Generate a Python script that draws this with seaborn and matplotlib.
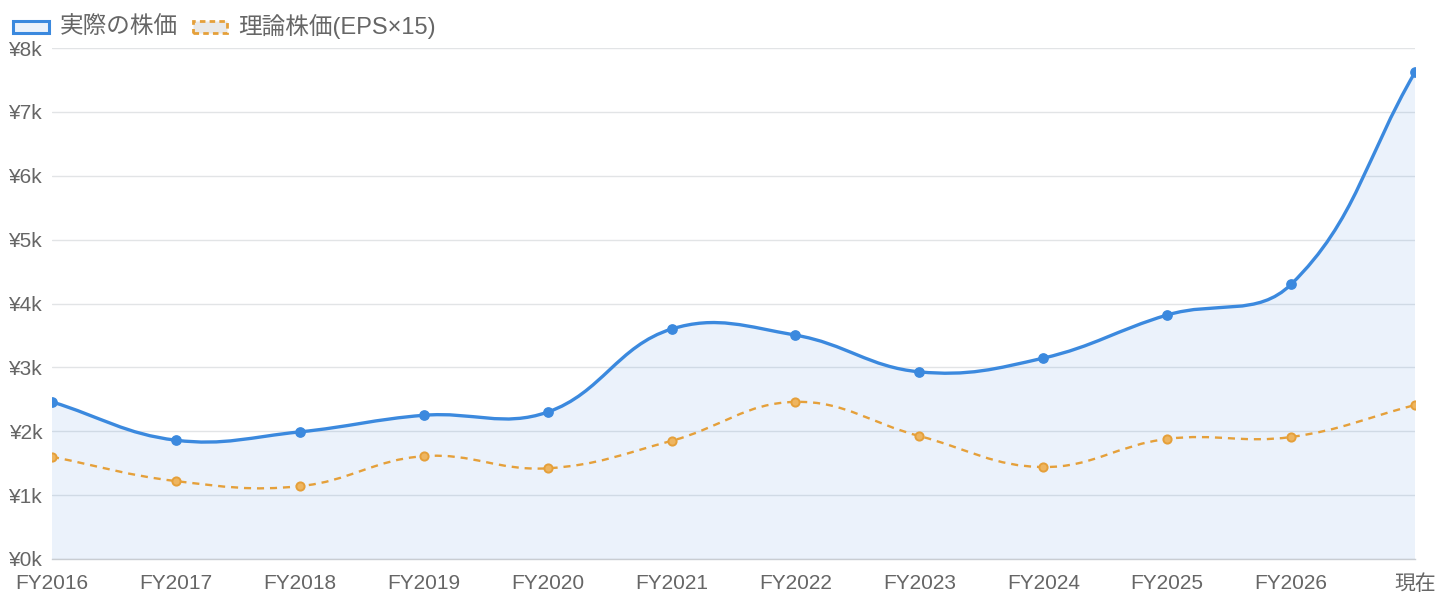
import numpy as np
import pandas as pd
import seaborn as sns
import matplotlib.pyplot as plt
from matplotlib.path import Path
from matplotlib.patches import PathPatch, Rectangle
from matplotlib.ticker import FuncFormatter

# data
labels = ['FY2016', 'FY2017', 'FY2018', 'FY2019', 'FY2020', 'FY2021',
          'FY2022', 'FY2023', 'FY2024', 'FY2025', 'FY2026', '現在']
actual_price = [2460, 1860, 1990, 2250, 2300, 3600, 3505, 2930, 3145, 3820, 4300, 7620]
theory_price = [1600, 1220, 1140, 1610, 1420, 1850, 2460, 1925, 1440, 1880, 1910, 2410]

blue = '#3b89de'
orange = '#e5a03a'
grey_text = '#666666'

df = pd.DataFrame({'x': range(len(labels)), 'label': labels,
                   'actual': actual_price, 'theory': theory_price})

sns.set_theme(style='white')
plt.rcParams['font.family'] = ['Liberation Sans', 'Noto Sans CJK JP', 'DejaVu Sans']

fig = plt.figure(figsize=(14.4, 6), dpi=100)
ax = fig.add_axes([52 / 1440, 41 / 600, (1415 - 52) / 1440, (559 - 48) / 600])
ax.set_xlim(0, len(labels) - 1)
ax.set_ylim(0, 8000)


# chart.js style bezier smoothing (tension 0.4), done in pixel space
def smooth_path(xs, ys, tension=0.4):
    pts = ax.transData.transform(np.column_stack([xs, ys]))
    n = len(pts)
    y_top, y_bot = ax.transData.transform([(0, 8000), (0, 0)])[:, 1]
    cp_prev, cp_next = [], []
    for i in range(n):
        prev = pts[i - 1] if i > 0 else pts[i]
        cur = pts[i]
        nxt = pts[i + 1] if i < n - 1 else pts[i]
        d01 = np.hypot(*(cur - prev))
        d12 = np.hypot(*(nxt - cur))
        tot = d01 + d12
        s01 = d01 / tot if tot else 0
        s12 = d12 / tot if tot else 0
        fa, fb = tension * s01, tension * s12
        p = cur - fa * (nxt - prev)
        q = cur + fb * (nxt - prev)
        p[1] = min(max(p[1], y_bot), y_top)
        q[1] = min(max(q[1], y_bot), y_top)
        cp_prev.append(p)
        cp_next.append(q)
    verts = [pts[0]]
    codes = [Path.MOVETO]
    for i in range(1, n):
        verts += [cp_next[i - 1], cp_prev[i], pts[i]]
        codes += [Path.CURVE4] * 3
    verts = ax.transData.inverted().transform(np.array(verts))
    return verts, codes


# actual price: filled area + smooth line
v, c = smooth_path(df['x'], df['actual'])
fill_verts = np.vstack([v, [[df['x'].iloc[-1], 0], [df['x'].iloc[0], 0], v[0]]])
fill_codes = c + [Path.LINETO, Path.LINETO, Path.CLOSEPOLY]
ax.add_patch(PathPatch(Path(fill_verts, fill_codes), facecolor=blue, alpha=0.1,
                       edgecolor='none', zorder=1))
ax.add_patch(PathPatch(Path(v, c), facecolor='none', edgecolor=blue, lw=2.4,
                       zorder=3, capstyle='round'))

# theoretical price: dashed smooth line
v2, c2 = smooth_path(df['x'], df['theory'])
ax.add_patch(PathPatch(Path(v2, c2), facecolor='none', edgecolor=orange, lw=1.7,
                       linestyle=(0, (3, 2.5)), zorder=3))

sns.scatterplot(data=df, x='x', y='actual', color=blue, s=45, edgecolor=blue,
                linewidth=1, ax=ax, zorder=4)
sns.scatterplot(data=df, x='x', y='theory', color='#eeb560', s=35, edgecolor=orange,
                linewidth=1.4, ax=ax, zorder=4)

# axes styling
ax.set_xlabel('')
ax.set_ylabel('')
ax.set_xticks(df['x'], labels)
ax.set_yticks(range(0, 8001, 1000))
ax.yaxis.set_major_formatter(FuncFormatter(lambda val, pos: f'¥{int(val / 1000)}k'))
ax.yaxis.grid(True, color='#e2e4e6', lw=1)
ax.xaxis.grid(False)
ax.set_axisbelow(True)
for side in ['left', 'top', 'right']:
    ax.spines[side].set_visible(False)
ax.spines['bottom'].set_color('#c9cdd2')
ax.spines['bottom'].set_linewidth(1)
ax.tick_params(axis='x', length=0, pad=11, labelsize=15, labelcolor=grey_text)
ax.tick_params(axis='y', length=6, width=1, color='#e2e4e6', pad=1,
               labelsize=15, labelcolor=grey_text)
for t in ax.get_xticklabels():
    t.set_ha('center')

# legend drawn at the top-left like the original
fig.add_artist(Rectangle((13 / 1440, 1 - 33 / 600), 36 / 1440, 12 / 600,
                         transform=fig.transFigure, facecolor=blue, alpha=0.1,
                         edgecolor='none'))
fig.add_artist(Rectangle((13 / 1440, 1 - 33 / 600), 36 / 1440, 12 / 600,
                         transform=fig.transFigure, facecolor='none',
                         edgecolor=blue, lw=2.2))
fig.text(60 / 1440, 1 - 27 / 600, '実際の株価', va='center', ha='left',
         fontsize=17, color=grey_text)
fig.add_artist(Rectangle((193 / 1440, 1 - 33 / 600), 34 / 1440, 12 / 600,
                         transform=fig.transFigure, facecolor='#e9e9e9',
                         edgecolor=orange, lw=2, linestyle=(0, (2, 1.5))))
fig.text(238 / 1440, 1 - 27 / 600, '理論株価(EPS×15)', va='center', ha='left',
         fontsize=17, color=grey_text)

fig.savefig('out.png', dpi=100)
